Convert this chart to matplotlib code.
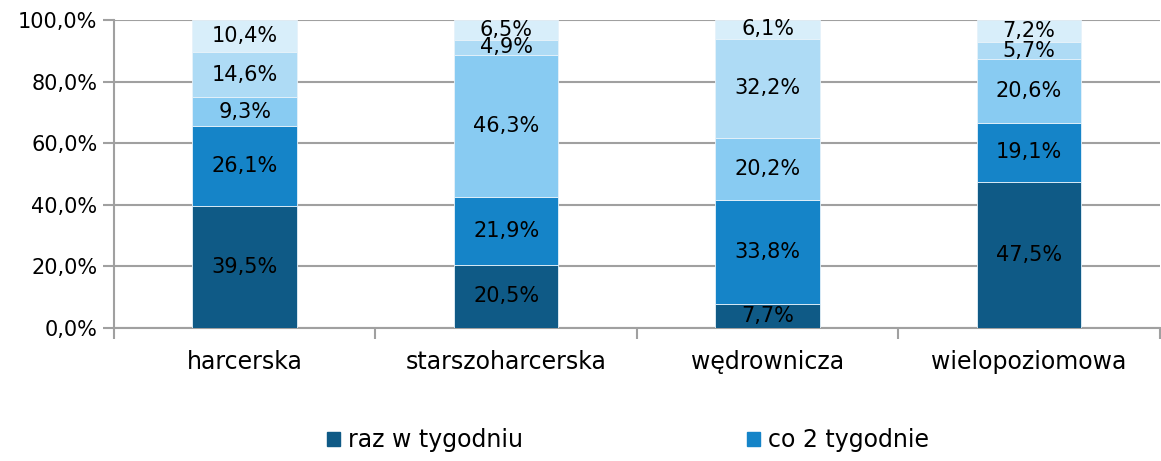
import numpy as np
import matplotlib
matplotlib.use('Agg')
import matplotlib.pyplot as plt
from matplotlib.ticker import FuncFormatter, FixedLocator
from matplotlib.patches import Patch

plt.rcParams['font.family'] = ['DejaVu Sans']

categories = ['harcerska', 'starszoharcerska', 'wędrownicza', 'wielopoziomowa']
raz_w_tygodniu = [39.5, 20.5, 7.7, 47.5]
co_2_tygodnie = [26.1, 21.9, 33.8, 19.1]
seg3 = [9.3, 46.3, 20.2, 20.6]
seg4 = [14.6, 4.9, 32.2, 5.7]
seg5 = [10.4, 6.5, 6.1, 7.2]
series = [raz_w_tygodniu, co_2_tygodnie, seg3, seg4, seg5]
legend_labels = ['raz w tygodniu', 'co 2 tygodnie']
colors = ['#0F5A86', '#1584C8', '#88CBF2', '#AEDBF5', '#D8EEFA']

fig = plt.figure(figsize=(11.61, 4.61), dpi=100)
ax = fig.add_axes([0.0982, 0.2885, 0.9008, 0.668])

x = np.arange(len(categories))
bottom = np.zeros(len(categories))
for vals, c in zip(series, colors):
    vals = np.array(vals)
    ax.bar(x, vals, 0.4, bottom=bottom, color=c, edgecolor='#E6F2FA', linewidth=0.6, zorder=3)
    for xi, b, v in zip(x, bottom, vals):
        ax.text(xi, b + v / 2, ('%.1f%%' % v).replace('.', ','), ha='center', va='center',
                fontsize=15, color='black', zorder=4)
    bottom += vals

ax.set_xlim(-0.5, 3.5)
ax.set_ylim(0, 100)
ax.set_yticks(np.arange(0, 101, 20))
ax.yaxis.set_major_formatter(FuncFormatter(lambda v, p: ('%.1f%%' % v).replace('.', ',')))
ax.grid(axis='y', color='#A0A0A0', linewidth=1.5, zorder=0)

ax.set_xticks(x)
ax.set_xticklabels(categories)
ax.xaxis.set_minor_locator(FixedLocator(np.arange(-0.5, 4.0, 1.0)))
ax.tick_params(axis='x', which='major', length=0, pad=16, labelsize=17)
ax.tick_params(axis='x', which='minor', length=8, width=1.5, color='#A0A0A0')
ax.tick_params(axis='y', length=8, width=1.5, color='#A0A0A0', labelsize=15, pad=4)

for s in ['top', 'right']:
    ax.spines[s].set_visible(False)
for s in ['left', 'bottom']:
    ax.spines[s].set_color('#A0A0A0')
    ax.spines[s].set_linewidth(1.5)

handles = [Patch(color=colors[0]), Patch(color=colors[1])]
fig.legend(handles, legend_labels, ncol=2, loc='center left', bbox_to_anchor=(0.2817, 0.045),
           frameon=False, fontsize=17, handlelength=0.55, handleheight=0.55,
           handletextpad=0.34, columnspacing=9.5, borderpad=0, borderaxespad=0)

fig.savefig('out.png', dpi=100)
